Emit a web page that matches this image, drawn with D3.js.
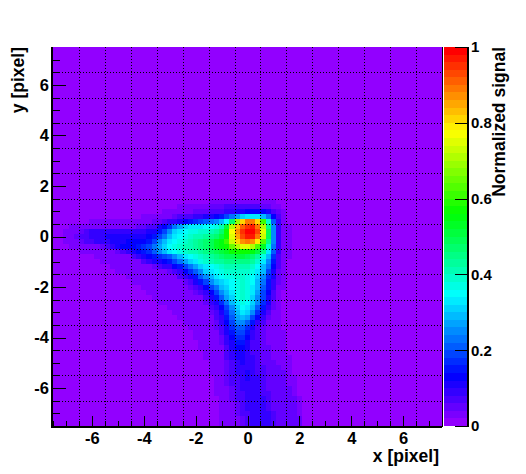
<!DOCTYPE html>
<html><head><meta charset="utf-8">
<script src="https://cdn.jsdelivr.net/npm/d3@7"></script>
<style>html,body{margin:0;padding:0;background:#fff}svg{display:block}
text{font-family:"Liberation Sans",Arial,sans-serif;font-weight:bold;fill:#000}</style></head><body>
<script>
const xTicks=[-6,-4,-2,0,2,4,6];
const yTicks=[-6,-4,-2,0,2,4,6];
const zTicks=[0,0.2,0.4,0.6,0.8,1];
const gridAt=[-6.5,-5.5,-4.5,-3.5,-2.5,-1.5,-0.5,0.5,1.5,2.5,3.5,4.5,5.5,6.5];
const minorAt=[-7.5,-7,-6.5,-5.5,-5,-4.5,-3.5,-3,-2.5,-1.5,-1,-0.5,0.5,1,1.5,2.5,3,3.5,4.5,5,5.5,6.5,7];
const xTitle="x [pixel]",yTitle="y [pixel]",zTitle="Normalized signal";
const background=1;
// faint halo around the signal: [y, xFrom, xTo], value 3 (percent)
const halo=[[1.4,-1.4,1],[1.2,-2.6,1.2],[1,-3.2,1.4],[.8,-4,1.4],[.6,-6,1.4],[.4,-6.8,1.6],[.2,-7,1.6],[0,-7,1.6],[-.2,-7,1.6],[-.4,-6.8,1.6],[-.6,-6.4,1.6],[-.8,-5.8,1.6],[-1,-5.6,1.4],[-1.2,-5.2,1.4],[-1.4,-5,1.4],[-1.6,-4.6,1.4],[-1.8,-4.4,1.4],[-2,-4,1.4],[-2.2,-3.8,1.2],[-2.4,-3.6,1.2],[-2.6,-3.4,1.2],[-2.8,-3,1.2],[-3,-2.8,1.2],[-3.2,-2.6,1.2],[-3.4,-2.4,1.2],[-3.6,-2.2,1.2],[-3.8,-2,1.4],[-4,-2,1.4],[-4.2,-1.8,1.4],[-4.4,-1.8,1.4],[-4.6,-1.6,1.4],[-4.8,-1.6,1.6],[-5,-1.4,1.6],[-5.2,-1.4,1.6],[-5.4,-1.4,1.6],[-5.6,-1.2,1.8],[-5.8,-1.2,1.8],[-6,-1.2,1.8],[-6.2,-1.2,1.8],[-6.4,-1,2],[-6.6,-1,2],[-6.8,-1,2],[-7,-1,2],[-7.2,-.8,2],[-7.4,-.8,2]];
// signal rows: [y, first x, then percent values at 0.2 steps in x, five per unit]
const rows=[
[1.2,-2, 3,3,3,5,5, 5,6,6,6,6, 6,6,6,5,5, 3,3],
[1.0,-3, 3,3,3,3,3, 5,5,5,6,6, 7,8,9,10,11, 13,13,13,12,11, 7,5,3],
[0.8,-3, 3,5,6,6,7, 8,9,10,11,13, 15,18,22,26,30, 33,33,32,28,22, 12,6,3],
[0.6,-4, 3,3,5,5,6, 8,9,11,12,14, 16,18,21,23,25, 28,34,46,68,80, 88,88,80,60,38, 20,8,3],
[0.4,-5, 3,3,3,3,5, 5,6,7,10,13, 17,22,27,30,32, 33,33,34,35,37, 41,50,70,82,90, 95,96,88,70,45, 24,9,3],
[0.2,-7, 3,3,3,5,6, 8,9,9,9,9, 9,9,9,9,9, 9,10,11,14,19, 25,30,33,35,36, 37,38,39,40,42, 47,56,76,86,95, 100,100,92,74,48, 25,9,3],
[0,-7, 3,3,5,6,7, 8,9,9,10,10, 10,10,10,10,10, 11,12,14,18,23, 28,32,35,36,38, 40,41,43,45,47, 50,57,74,85,93, 97,97,89,72,48, 25,9,3],
[-0.2,-7, 3,3,3,5,6, 7,8,8,9,10, 11,11,12,12,12, 13,15,19,24,28, 32,35,37,39,40, 42,44,46,49,52, 55,60,72,80,86, 88,86,78,62,44, 24,9,3],
[-0.4,-6, 3,3,5,6,8, 10,12,13,13,14, 16,19,23,27,31, 34,36,38,40,41, 43,45,47,49,52, 54,58,64,70,74, 74,70,62,52,38, 22,9,3],
[-0.6,-5, 5,7,9,11,13, 15,17,20,24,28, 32,34,36,38,40, 41,43,45,47,49, 51,53,56,58,58, 57,55,50,44,33, 20,8,3],
[-0.8,-5, 3,3,3,6,8, 10,12,14,16,18, 20,24,28,32,35, 37,39,41,43,45, 47,48,49,50,50, 49,47,43,37,29, 17,7,3],
[-1.0,-5, 3,3,3,3,3, 6,8,10,11,12, 14,18,22,26,30, 33,36,38,40,42, 43,44,45,45,45, 44,42,38,33,25, 15,6,3],
[-1.2,-4, 3,3,5,6,8, 9,12,15,19,23, 27,30,33,35,37, 39,40,41,41,41, 40,38,35,29,22, 13,6,3],
[-1.4,-3, 5,6,9,12,16, 20,25,30,33,35, 37,38,39,39,39, 38,36,33,28,19, 11,5,3],
[-1.6,-3, 3,3,6,8,11, 15,20,25,29,32, 34,36,37,38,38, 37,35,31,25,17, 10,5,3],
[-1.8,-3, 3,3,3,5,7, 10,14,19,24,28, 31,33,35,37,38, 37,34,29,23,15, 9,5,3],
[-2.0,-3, 3,3,3,3,5, 7,9,13,18,23, 28,31,34,37,39, 37,33,28,21,14, 8,3],
[-2.2,-2, 5,6,9,13,18, 24,29,33,37,38, 37,32,26,19,13, 7,3],
[-2.4,-2, 3,3,7,10,14, 20,26,31,36,38, 36,31,25,18,11, 6,3],
[-2.6,-2, 3,3,5,8,11, 16,22,28,33,36, 34,30,24,16,10, 5,3],
[-2.8,-2, 3,3,3,6,9, 13,19,25,31,34, 33,28,21,14,8, 5],
[-3.0,-2, 3,3,3,5,7, 11,16,22,29,32, 30,24,17,11,6, 3],
[-3.2,-2, 3,3,3,3,6, 9,14,20,27,29, 26,19,13,8,5, 3],
[-3.4,-2, 3,3,3,3,5, 8,12,18,24,25, 21,14,9,6,3],
[-3.6,-2, 3,3,3,3,5, 7,11,16,21,21, 17,11,7,5,3],
[-3.8,-2, 3,3,3,3,3, 6,10,14,18,18, 14,9,6,5,3],
[-4.0,-1, 5,9,13,16,16, 12,8,6,5,3],
[-4.2,-1, 5,8,11,14,14, 11,7,6,5,3, 3],
[-4.4,-1, 3,7,10,12,12, 10,7,6,5,5, 3],
[-4.6,-1, 3,6,9,11,11, 9,7,6,5,5, 3,3],
[-4.8,-1, 3,6,8,10,10, 9,8,6,5,5, 3,3],
[-5.0,-1, 3,5,7,9,10, 9,8,7,5,5, 5,3,3],
[-5.2,-1, 3,5,7,8,9, 9,8,7,6,5, 5,5,3,3],
[-5.4,-1, 3,5,6,8,9, 10,9,7,6,5, 5,5,5,3],
[-5.6,-1, 3,5,6,7,9, 10,9,8,6,5, 5,5,5,3],
[-5.8,-1, 3,5,6,7,8, 9,9,8,6,5, 5,5,5,3,3],
[-6.0,-1, 3,3,5,6,8, 9,9,8,7,5, 5,5,5,5,3],
[-6.2,-1, 3,3,5,6,7, 9,9,9,7,6, 5,5,5,5,3],
[-6.4,-1, 3,3,5,6,7, 8,9,9,8,6, 5,5,5,5,5, 3],
[-6.6,-1, 3,3,3,5,6, 8,9,9,8,7, 5,5,5,5,5, 3],
[-6.8,-1, 3,3,3,5,6, 8,9,9,9,7, 5,5,5,5,5, 3],
[-7.0,-1, 3,3,3,5,6, 7,9,9,9,8, 6,5,5,5,5, 3],
[-7.2,-1, 3,3,3,3,5, 7,9,9,9,8, 6,5,5,5,5, 5],
[-7.4,-1, 3,3,3,3,5, 6,8,9,9,9, 7,5,5,5,5, 5]
];
const nBins=75, lo=-7.5, hi=7.5, binW=(hi-lo)/nBins, nLevels=50;

const W=526,H=474;
const L=53,R=442,T=47,B=426;
const x=d3.scaleLinear().domain([lo,hi]).range([L,R]);
const y=d3.scaleLinear().domain([lo,hi]).range([B,T]);
const z=d3.scaleLinear().domain([0,1]).range([B,T]);
const hueOf=d3.scaleLinear().domain([0,nLevels]).range([280,0]);
const level=v=>Math.min(nLevels-1,Math.floor(v*nLevels));
const colorOf=i=>d3.hsl(hueOf(i+1),1,0.5).formatHex();

// assemble the cell table
const idx=(v)=>Math.round((v-lo-binW/2)/binW);
const cells=new Map();
halo.forEach(([yy,a,b])=>{for(let i=idx(a);i<=idx(b);i++)cells.set(idx(yy)+"_"+i,3);});
rows.forEach(r=>{const j=idx(r[0]),s=idx(r[1]);
  r.slice(2).forEach((v,k)=>cells.set(j+"_"+(s+k),v));});
const table=[];
for(let j=0;j<nBins;j++)for(let i=0;i<nBins;i++){
  table.push({i,j,v:(cells.has(j+"_"+i)?cells.get(j+"_"+i):background)/100});
}

const svg=d3.select("body").append("svg").attr("width",W).attr("height",H);
svg.append("g").attr("shape-rendering","crispEdges").selectAll("rect").data(table).join("rect")
  .attr("x",d=>Math.round(x(lo+d.i*binW)))
  .attr("y",d=>Math.round(y(lo+(d.j+1)*binW)))
  .attr("width",d=>Math.round(x(lo+(d.i+1)*binW))-Math.round(x(lo+d.i*binW)))
  .attr("height",d=>Math.round(y(lo+d.j*binW))-Math.round(y(lo+(d.j+1)*binW)))
  .attr("fill",d=>colorOf(level(d.v)));

// dotted grid
const grid=svg.append("g").attr("stroke","#000").attr("stroke-width",1).attr("stroke-dasharray","1 2").attr("shape-rendering","crispEdges");
grid.selectAll(".gx").data(gridAt).join("line").attr("x1",d=>Math.round(x(d))+.5).attr("x2",d=>Math.round(x(d))+.5).attr("y1",T).attr("y2",B);
grid.selectAll(".gy").data(gridAt).join("line").attr("y1",d=>Math.round(y(d))+.5).attr("y2",d=>Math.round(y(d))+.5).attr("x1",L).attr("x2",R);

// colour bar
const levels=d3.range(nLevels);
svg.append("g").attr("shape-rendering","crispEdges").selectAll("rect").data(levels).join("rect")
  .attr("x",444).attr("width",24)
  .attr("y",d=>Math.round(z((d+1)/nLevels)))
  .attr("height",d=>Math.round(z(d/nLevels))-Math.round(z((d+1)/nLevels)))
  .attr("fill",d=>colorOf(d));

const fs=17.5, tickFs=16.5, barFs=15;
function style(g,size){
  g.selectAll("path").remove();
  g.selectAll("line").attr("stroke","#000").attr("stroke-width",1).attr("shape-rendering","crispEdges");
  g.selectAll("text").attr("font-size",size).attr("font-weight","bold");
}
// x axis
svg.append("g").attr("transform",`translate(0,${B})`).call(d3.axisBottom(x).tickValues(minorAt).tickSize(-5).tickFormat("")).call(style,tickFs);
svg.append("g").attr("transform",`translate(0,${B})`).call(d3.axisBottom(x).tickValues(xTicks).tickSize(-10).tickPadding(2).tickFormat(d3.format("d"))).call(style,tickFs)
  .selectAll("text").text(d=>String(d)).attr("dy","0.95em");
// y axis
svg.append("g").attr("transform",`translate(${L},0)`).call(d3.axisLeft(y).tickValues(minorAt).tickSize(-7).tickFormat("")).call(style,tickFs);
svg.append("g").attr("transform",`translate(${L},0)`).call(d3.axisLeft(y).tickValues(yTicks).tickSize(-13).tickPadding(4).tickFormat(d3.format("d"))).call(style,tickFs)
  .selectAll("text").text(d=>String(d));
// colour axis
svg.append("g").attr("transform",`translate(468,0)`).call(d3.axisRight(z).tickValues(zTicks).tickSize(-13).tickPadding(3).tickFormat(d=>String(d))).call(style,barFs);

// frame
const frame=svg.append("g").attr("stroke","#000").attr("shape-rendering","crispEdges");
frame.append("line").attr("x1",L-1).attr("x2",L-1).attr("y1",T).attr("y2",B+2).attr("stroke-width",2);
frame.append("line").attr("x1",L-1).attr("x2",R).attr("y1",B+1).attr("y2",B+1).attr("stroke-width",2);
frame.append("line").attr("x1",R).attr("x2",R).attr("y1",T).attr("y2",B+1).attr("stroke-width",1);
frame.append("line").attr("x1",468).attr("x2",468).attr("y1",T).attr("y2",B+1).attr("stroke-width",1.5);

// titles
svg.append("text").attr("x",R-3).attr("y",462).attr("text-anchor","end").attr("font-size",fs).text(xTitle);
svg.append("text").attr("transform","translate(24,47) rotate(-90)").attr("text-anchor","end").attr("font-size",fs).text(yTitle);
svg.append("text").attr("transform","translate(505,47) rotate(-90)").attr("text-anchor","end").attr("font-size",fs).text(zTitle);
</script></body></html>
